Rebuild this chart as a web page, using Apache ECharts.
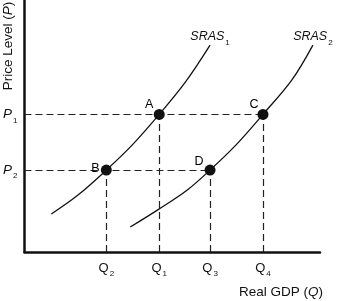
<!DOCTYPE html>
<html>
<head>
<meta charset="utf-8">
<script src="https://cdn.jsdelivr.net/npm/echarts@6/dist/echarts.min.js"></script>
<style>
html,body{margin:0;padding:0;background:#fff;}
#chart{width:337px;height:301px;}
</style>
</head>
<body>
<div id="chart"></div>
<script>
// ---- data ----
const qSubs = ['2', '1', '3', '4'];
const qValues = [27.7, 45.6, 62.8, 80.7];
const pSubs = ['1', '2'];
const pValues = [54.6, 32.5];
const pointNames = ['A', 'B', 'C', 'D'];
const pointQ = [45.6, 27.7, 80.7, 62.8];
const pointP = [54.6, 32.5, 54.6, 32.5];
const sras1 = [[9.1, 15.1], [18, 22.5], [27.7, 32.5], [36.5, 42.5], [45.6, 54.6], [54.5, 67.5], [62.8, 82.1]];
const sras2 = [[35.8, 9.9], [45.5, 17], [55.1, 24.6], [62.8, 32.5], [71.6, 42.5], [80.7, 54.6], [90.5, 68.3], [97.6, 82.1]];
const curveSubs = ['1', '2'];

const FONT = 'Liberation Sans, Arial, Helvetica, sans-serif';
const ink = '#111';

const labelOffsets = { A: [-10, -10], B: [-11, -2], C: [-9, -10], D: [-11, -9] };

const chart = echarts.init(document.getElementById('chart'), null, { renderer: 'canvas' });

const dashStyle = { color: '#222', width: 1.2, type: [7, 4] };
const dashLines = [];
pValues.forEach(p => {
  let maxQ = 0;
  pointP.forEach((pp, i) => { if (pp === p) maxQ = Math.max(maxQ, pointQ[i]); });
  dashLines.push([{ coord: [0, p] }, { coord: [maxQ, p] }]);
});
pointQ.forEach((q, i) => {
  dashLines.push([{ coord: [q, 0] }, { coord: [q, pointP[i]] }]);
});

function subRich(mainSize, italic) {
  return {
    m: { fontFamily: FONT, fontSize: mainSize, fontStyle: italic ? 'italic' : 'normal', color: ink, lineHeight: 14, verticalAlign: 'middle', opacity: 1 },
    s: { fontFamily: FONT, fontSize: 8, color: ink, lineHeight: 8, verticalAlign: 'middle', padding: [12, 0, 0, 1], opacity: 1 }
  };
}

function curveSeries(data) {
  return {
    type: 'line',
    data: data,
    smooth: 0.35,
    showSymbol: false,
    symbol: 'none',
    lineStyle: { color: ink, width: 1.3 },
    silent: true,
    z: 3
  };
}

const curveEnds = [sras1[sras1.length - 1], sras2[sras2.length - 1]];

chart.setOption({
  animation: false,
  backgroundColor: '#fff',
  grid: { left: 24, right: 17, top: 0, bottom: 49, containLabel: false },
  xAxis: {
    type: 'value', min: 0, max: 100,
    splitLine: { show: false },
    axisTick: { show: false },
    axisLine: { show: true, onZero: false, lineStyle: { color: ink, width: 2.5 } },
    axisLabel: {
      show: true,
      customValues: qValues,
      margin: 9,
      formatter: v => {
        const i = qValues.indexOf(v);
        return i < 0 ? '' : '{m|Q}{s|' + qSubs[i] + '}';
      },
      rich: subRich(13, false)
    }
  },
  yAxis: {
    type: 'value', min: 0, max: 100,
    splitLine: { show: false },
    axisTick: { show: false },
    axisLine: { show: true, onZero: false, lineStyle: { color: ink, width: 2.5 } },
    axisLabel: {
      show: true,
      customValues: pValues,
      margin: 7,
      formatter: v => {
        const i = pValues.indexOf(v);
        return i < 0 ? '' : '{m|P}{s|' + pSubs[i] + '}';
      },
      rich: subRich(13.5, true)
    }
  },
  graphic: [
    {
      type: 'text',
      x: 8, y: 46, rotation: Math.PI / 2,
      style: {
        text: '{r|Price Level (}{i|P}{r|)}',
        rich: {
          r: { fontFamily: FONT, fontSize: 13.5, fill: ink },
          i: { fontFamily: FONT, fontSize: 13.5, fontStyle: 'italic', fill: ink }
        },
        align: 'center', verticalAlign: 'middle'
      }
    },
    {
      type: 'text',
      x: 323, y: 292,
      style: {
        text: '{r|Real GDP (}{i|Q}{r|)}',
        rich: {
          r: { fontFamily: FONT, fontSize: 13.5, fill: ink },
          i: { fontFamily: FONT, fontSize: 13.5, fontStyle: 'italic', fill: ink }
        },
        align: 'right', verticalAlign: 'middle'
      }
    }
  ],
  series: [
    curveSeries(sras1),
    curveSeries(sras2),
    {
      type: 'scatter',
      data: curveEnds.map((d, i) => ({ value: d })),
      symbol: 'circle',
      symbolSize: 1,
      itemStyle: { color: 'rgba(0,0,0,0)', opacity: 1 },
      silent: true,
      label: {
        show: true, position: 'top', distance: 1, opacity: 1,
        formatter: p => '{m|SRAS}{s|' + curveSubs[p.dataIndex] + '}',
        rich: subRich(12.5, true)
      }
    },
    {
      type: 'scatter',
      data: pointNames.map((n, i) => ({
        name: n,
        value: [pointQ[i], pointP[i]],
        label: { offset: labelOffsets[n] }
      })),
      symbol: 'circle',
      symbolSize: 11,
      itemStyle: { color: ink, opacity: 1 },
      label: {
        show: true, position: 'inside', opacity: 1,
        formatter: p => p.name,
        fontFamily: FONT, fontSize: 12.5, color: '#000',
        textBorderWidth: 0
      },
      markLine: {
        silent: true,
        symbol: 'none',
        label: { show: false },
        lineStyle: dashStyle,
        data: dashLines
      },
      z: 5
    }
  ]
});
</script>
</body>
</html>
